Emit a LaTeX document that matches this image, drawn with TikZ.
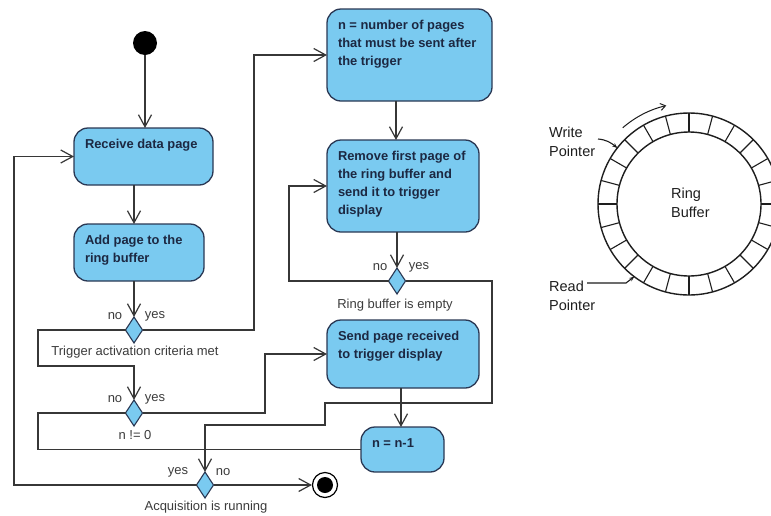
\documentclass[tikz,border=0pt]{standalone}
\usepackage{fontspec}
\setmainfont{Liberation Sans}
\usetikzlibrary{arrows.meta,shapes.geometric,calc}
\definecolor{boxfill}{RGB}{122,202,240}
\definecolor{boxline}{RGB}{42,56,84}
\definecolor{boxtext}{RGB}{28,40,66}
\definecolor{flow}{RGB}{55,55,55}
\definecolor{lbl}{RGB}{60,60,60}
\definecolor{ringc}{RGB}{30,30,30}
\newcommand\acttxt[3]{\parbox[b][#2pt][t]{#1pt}{\raggedright\leftskip=11pt\rule{0pt}{20pt}#3\par}}
\begin{document}
\begin{tikzpicture}[x=1pt,y=-1pt,
  act/.style={draw=boxline, fill=boxfill, rounded corners=14pt, line width=1.3pt, inner sep=0pt, outer sep=0pt, anchor=north west, font=\bfseries\fontsize{12.9}{18}\selectfont, text=boxtext},
  dia/.style={diamond, draw=boxline, fill=boxfill, line width=1.1pt, minimum width=17pt, minimum height=26pt, inner sep=0pt, outer sep=0pt},
  startnode/.style={circle, fill=black, minimum size=24pt, inner sep=0pt},
  finnode/.style={circle, draw=black, fill=white, line width=1.2pt, minimum size=25pt, inner sep=0pt, path picture={\fill[black] (path picture bounding box.center) circle[radius=8pt];}},
  lab/.style={font=\fontsize{13}{15}\selectfont, text=lbl, inner sep=0pt},
  flowline/.style={draw=flow, line width=1.2pt},
  arr/.style={flowline, -{Straight Barb[length=12pt,width=13pt]}},
  ringtxt/.style={font=\fontsize{14.5}{18.5}\selectfont, text=ringc, inner sep=0pt, align=left, anchor=west},
  ptr/.style={draw=ringc, line width=1.1pt, -{Stealth[length=5pt,width=4pt]}}]
\useasboundingbox (0,0) rectangle (771,515);
\clip (0,0) rectangle (771,515);
\fill[white] (0,0) rectangle (771,515);

% activity flow
\node[startnode] (start) at (145,43) {};
\node[act] (recv) at (74,128) {\acttxt{139}{57}{Receive data page}};
\node[act] (add) at (74,224) {\acttxt{130}{57}{Add page to the\\ring buffer}};
\node[act] (nbox) at (327,9) {\acttxt{165}{92}{n = number of pages\\that must be sent after\\the trigger}};
\node[act] (remove) at (327,140) {\acttxt{152}{92}{Remove first page of\\the ring buffer and\\send it to trigger\\display}};
\node[act] (send) at (327,320) {\acttxt{152}{68}{Send page received\\to trigger display}};
\node[act] (dec) at (361,427) {\acttxt{83}{45}{n = n-1}};

\node[dia] (d1) at (134,330) {};
\node[dia] (d2) at (134,413) {};
\node[dia] (d3) at (397,281) {};
\node[dia] (d4) at (205,485) {};
\node[finnode] (fin) at (325,485) {};

\node[lab] (d1no) at (115,316) {no};
\node[lab] (d1yes) at (155,316) {yes};
\node[lab] (d1c) at (135,352) {Trigger activation criteria met};
\node[lab] (d2no) at (115,399) {no};
\node[lab] (d2yes) at (155,399) {yes};
\node[lab] (d2c) at (135,435) {n != 0};
\node[lab] (d3no) at (380,267) {no};
\node[lab] (d3yes) at (419,267) {yes};
\node[lab] (d3c) at (395,305) {Ring buffer is empty};
\node[lab] (d4yes) at (178,472) {yes};
\node[lab] (d4no) at (223,472) {no};
\node[lab] (d4c) at (206,507) {Acquisition is running};

\coordinate (xa) at (38,0);
\coordinate (xb) at (254,0);
\coordinate (xc) at (265,0);
\coordinate (xd) at (289,0);
\coordinate (xe) at (14,0);
\coordinate (xs) at (401,0);
\coordinate (xn) at (396,0);
\coordinate (k1) at (38,366);
\coordinate (k4) at (492,403);
\coordinate (k5) at (325,425);

\draw[arr] (start) -- (recv.north -| start);
\draw[arr] (recv.south -| d1) -- (add.north -| d1);
\draw[arr] (add.south -| d1) -- (d1.north);
\draw[arr] (d1.west) -| (k1) -| (d2.north);
\draw[arr] (d1.east) -| (xb |- nbox.west) -- (nbox.west);
\draw[arr] (nbox.south -| xn) -- (remove.north -| xn);
\draw[arr] (remove.south -| d3) -- (d3.north);
\draw[arr] (d3.west) -| (xd |- remove.west) -- (remove.west);
\draw[arr] (d3.east) -| (k4) -| (k5) -| (d4.north);
\draw[arr] (d2.east) -| (xc |- send.west) -- (send.west);
\draw[flowline] (d2.west) -| (xa |- dec.west) -- (dec.west);
\draw[arr] (send.south -| xs) -- (dec.north -| xs);
\draw[arr] (d4.west) -| (xe |- recv.west) -- (recv.west);
\draw[arr] (d4.east) -- (fin);

% ring buffer
\coordinate (C) at (689,204);
\node[circle, draw=ringc, line width=1.4pt, minimum size=182pt, inner sep=0pt, outer sep=0pt] (ringout) at (C) {};
\node[circle, draw=ringc, line width=1.4pt, minimum size=144pt, inner sep=0pt, outer sep=0pt] (ringin) at (C) {};
\foreach \a in {0,15,...,345} \draw[ringc, line width=1.1pt] (ringin.\a) -- (ringout.\a);
\node[ringtxt] (rb) at (671,203) {Ring\\Buffer};
\node[ringtxt] (wp) at (549,142) {Write\\Pointer};
\node[ringtxt] (rp) at (549,296) {Read\\Pointer};
\coordinate (wpa) at (598,139);
\coordinate (rpa) at (587,283);
\coordinate (rpb) at (626,283);
\draw[ptr] (wpa) to[out=-5,in=140] (ringout.142);
\draw[ptr] (rpa) -- (rpb) -- (ringout.233);
\draw[ringc, line width=1pt, -{Straight Barb[length=5pt,width=7pt]}] ([shift={(131:101pt)}]C) arc[start angle=131, end angle=103, radius=101pt];
\end{tikzpicture}
\end{document}
